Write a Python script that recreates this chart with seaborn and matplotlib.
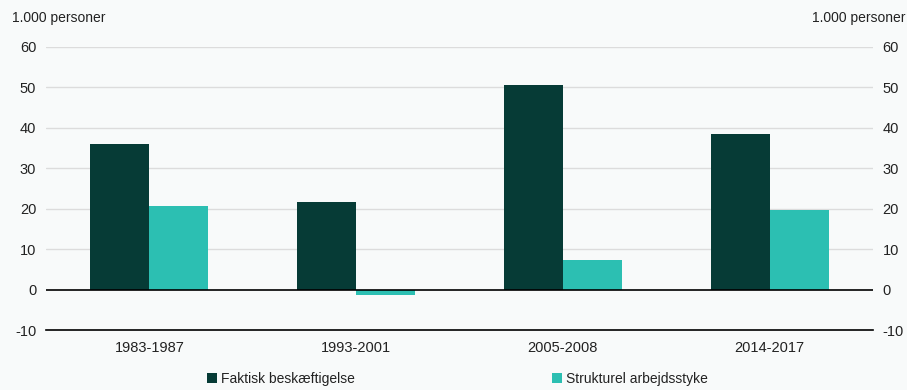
import matplotlib
matplotlib.use("Agg")
import matplotlib.pyplot as plt
import seaborn as sns
import pandas as pd
from matplotlib.patches import Patch

periods = ["1983-1987", "1993-2001", "2005-2008", "2014-2017"]
faktisk = [36.0, 21.6, 50.6, 38.6]
strukturel = [20.7, -1.3, 7.2, 19.6]
series_names = ["Faktisk beskæftigelse", "Strukturel arbejdsstyke"]
colors = ["#063B36", "#2CBFB2"]
yticks = [-10, 0, 10, 20, 30, 40, 50, 60]
unit = "1.000 personer"

df = pd.DataFrame({
    "period": periods * 2,
    "value": faktisk + strukturel,
    "series": [series_names[0]] * 4 + [series_names[1]] * 4,
})

sns.set_theme(style="white")
plt.rcParams["font.family"] = ["Liberation Sans", "DejaVu Sans"]
bg = "#F8FAFA"
fs = 10.5
fig = plt.figure(figsize=(9.07, 3.90), dpi=100, facecolor=bg)
ax = fig.add_axes([46 / 907, 1 - 330 / 390, (873 - 46) / 907, (330 - 47) / 390])
ax.set_facecolor(bg)

sns.barplot(data=df, x="period", y="value", hue="series", palette=colors,
            width=0.57, saturation=1, ax=ax, legend=False, zorder=3, linewidth=0)

ax.set_ylim(-10, 60)
ax.set_xlim(-0.5, 3.5)
ax.set_yticks(yticks)
ax.set_yticklabels([str(t) for t in yticks])
ax.set_xlabel("")
ax.set_ylabel("")
for t in yticks[2:]:
    ax.axhline(t, color="#DCDCDC", lw=1, zorder=1)
ax.axhline(0, color="black", lw=1.2, zorder=4)

for s in ["top", "right", "left"]:
    ax.spines[s].set_visible(False)
ax.spines["bottom"].set_color("black")
ax.spines["bottom"].set_linewidth(1.2)

ax.tick_params(axis="y", length=0, labelsize=fs, labelright=True, labelleft=True,
               colors="#222222", pad=7)
ax.tick_params(axis="x", which="major", length=0, labelsize=fs, pad=8, colors="#222222")
ax.set_xticks([-0.5, 0.5, 1.5, 2.5, 3.5], minor=True)
ax.tick_params(axis="x", which="minor", length=5, width=1, color="#555555")

fig.text(12 / 907, 1 - 18 / 390, unit, ha="left", va="center", fontsize=10, color="#222222")
fig.text(905 / 907, 1 - 18 / 390, unit, ha="right", va="center", fontsize=10, color="#222222")

h1 = [Patch(facecolor=colors[0], edgecolor="none")]
h2 = [Patch(facecolor=colors[1], edgecolor="none")]
leg_kw = dict(loc="center left", frameon=False, fontsize=10, handlelength=0.7, handleheight=0.7,
              handletextpad=0.3, borderpad=0, borderaxespad=0)
leg1 = fig.legend(h1, [series_names[0]], bbox_to_anchor=(207 / 907, 1 - 379 / 390), **leg_kw)
leg2 = fig.legend(h2, [series_names[1]], bbox_to_anchor=(552 / 907, 1 - 379 / 390), **leg_kw)
for leg in (leg1, leg2):
    for t in leg.get_texts():
        t.set_color("#222222")

fig.savefig("out.png", dpi=100, facecolor=bg)
